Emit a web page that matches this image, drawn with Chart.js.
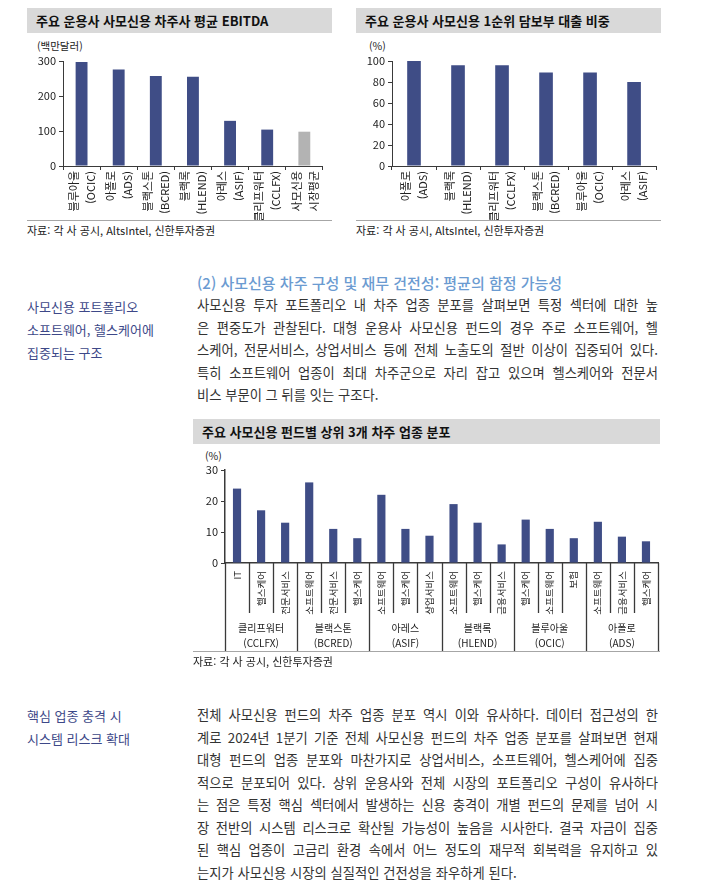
<!DOCTYPE html>
<html lang="ko">
<head>
<meta charset="utf-8">
<title>사모신용 차주 구성</title>
<script src="https://cdn.jsdelivr.net/npm/chart.js@4.4.1/dist/chart.umd.min.js"></script>
<style>
  html, body { margin: 0; padding: 0; background: #fff; }
  body {
    width: 703px; height: 881px; position: relative; overflow: hidden;
    font-family: 'Noto Sans CJK KR', 'Noto Sans', sans-serif; color: #222;
  }
  .abs { position: absolute; }
  .titlebar {
    position: absolute; height: 25px; line-height: 25px; background: #d9d9d9;
    font-size: 13px; font-weight: 700; color: #111; padding-left: 9px; box-sizing: border-box;
  }
  .unit { position: absolute; font-size: 10.5px; color: #222; }
  .rule { position: absolute; height: 0; border-top: 1px solid #a6a6a6; }
  .source { position: absolute; font-size: 11px; color: #222; }
  .heading { position: absolute; left: 197px; top: 272px; font-size: 15px; font-weight: 500; color: #6b9bd1; }
  .side { position: absolute; left: 27px; font-size: 13px; color: #3d4888; line-height: 23px; }
  .body { position: absolute; left: 197px; width: 461px; font-size: 13.3px; color: #333; line-height: 22.5px; font-weight: 400; }
  .body div { text-align: justify; text-align-last: justify; white-space: nowrap; }
  .body div.last { text-align-last: left; }
  canvas { position: absolute; }
</style>
</head>
<body>

<div class="titlebar" style="left:27px; top:8px; width:305px;">주요 운용사 사모신용 차주사 평균 EBITDA</div>
<div class="unit" style="left:37px; top:38px;">(백만달러)</div>
<div class="abs" style="left:0; top:40px; width:340px; height:180px;"><canvas id="ebitdaChart"></canvas></div>
<div class="rule" style="left:27px; top:220px; width:305px;"></div>
<div class="source" style="left:27px; top:222px;">자료: 각 사 공시, AltsIntel, 신한투자증권</div>

<div class="titlebar" style="left:356px; top:8px; width:305px;">주요 운용사 사모신용 1순위 담보부 대출 비중</div>
<div class="unit" style="left:369px; top:38px;">(%)</div>
<div class="abs" style="left:340px; top:40px; width:330px; height:180px;"><canvas id="lienChart"></canvas></div>
<div class="rule" style="left:356px; top:220px; width:305px;"></div>
<div class="source" style="left:356px; top:222px;">자료: 각 사 공시, AltsIntel, 신한투자증권</div>

<div class="heading">(2) 사모신용 차주 구성 및 재무 건전성: 평균의 함정 가능성</div>

<div class="side" style="top:295px;">사모신용 포트폴리오<br>소프트웨어, 헬스케어에<br>집중되는 구조</div>
<div class="body" style="top:294px;">
  <div>사모신용 투자 포트폴리오 내 차주 업종 분포를 살펴보면 특정 섹터에 대한 높</div>
  <div>은 편중도가 관찰된다. 대형 운용사 사모신용 펀드의 경우 주로 소프트웨어, 헬</div>
  <div>스케어, 전문서비스, 상업서비스 등에 전체 노출도의 절반 이상이 집중되어 있다.</div>
  <div>특히 소프트웨어 업종이 최대 차주군으로 자리 잡고 있으며 헬스케어와 전문서</div>
  <div class="last">비스 부문이 그 뒤를 잇는 구조다.</div>
</div>

<div class="titlebar" style="left:193px; top:419px; width:467px;">주요 사모신용 펀드별 상위 3개 차주 업종 분포</div>
<div class="unit" style="left:205px; top:448px;">(%)</div>
<div class="abs" style="left:180px; top:446px; width:490px; height:206px;"><canvas id="sectorChart"></canvas></div>
<div class="rule" style="left:193px; top:651px; width:467px;"></div>
<div class="source" style="left:193px; top:653px;">자료: 각 사 공시, 신한투자증권</div>

<div class="side" style="top:704px;">핵심 업종 충격 시<br>시스템 리스크 확대</div>
<div class="body" style="top:704px;">
  <div>전체 사모신용 펀드의 차주 업종 분포 역시 이와 유사하다. 데이터 접근성의 한</div>
  <div>계로 2024년 1분기 기준 전체 사모신용 펀드의 차주 업종 분포를 살펴보면 현재</div>
  <div>대형 펀드의 업종 분포와 마찬가지로 상업서비스, 소프트웨어, 헬스케어에 집중</div>
  <div>적으로 분포되어 있다. 상위 운용사와 전체 시장의 포트폴리오 구성이 유사하다</div>
  <div>는 점은 특정 핵심 섹터에서 발생하는 신용 충격이 개별 펀드의 문제를 넘어 시</div>
  <div>장 전반의 시스템 리스크로 확산될 가능성이 높음을 시사한다. 결국 자금이 집중</div>
  <div>된 핵심 업종이 고금리 환경 속에서 어느 정도의 재무적 회복력을 유지하고 있</div>
  <div class="last">는지가 사모신용 시장의 실질적인 건전성을 좌우하게 된다.</div>
</div>

<script>
  // --- data: average borrower EBITDA (USD mn) ---
  const ebitdaLabels = [
    ['블루아울', '(OCIC)'], ['아폴로', '(ADS)'], ['블랙스톤', '(BCRED)'], ['블랙록', '(HLEND)'],
    ['아레스', '(ASIF)'], ['클리프워터', '(CCLFX)'], ['사모신용', '시장평균'],
  ];
  const ebitdaValues = [297, 276, 257, 255, 129, 104, 98];
  const ebitdaTicks = [0, 100, 200, 300];

  // --- data: first-lien senior secured share (%) ---
  const lienLabels = [
    ['아폴로', '(ADS)'], ['블랙록', '(HLEND)'], ['클리프워터', '(CCLFX)'],
    ['블랙스톤', '(BCRED)'], ['블루아울', '(OCIC)'], ['아레스', '(ASIF)'],
  ];
  const lienValues = [100, 96, 96, 89, 89, 80];
  const lienTicks = [0, 20, 40, 60, 80, 100];

  // --- data: top 3 borrower sectors per fund (%) ---
  const sectorLabels = [
    'IT', '헬스케어', '전문서비스',
    '소프트웨어', '전문서비스', '헬스케어',
    '소프트웨어', '헬스케어', '상업서비스',
    '소프트웨어', '헬스케어', '금융서비스',
    '헬스케어', '소프트웨어', '보험',
    '소프트웨어', '금융서비스', '헬스케어',
  ];
  const sectorValues = [24, 17, 13, 26, 11, 8, 22, 11, 8.8, 19, 13, 6, 14, 11, 8, 13.3, 8.5, 7];
  const fundNames = [
    ['클리프워터', '(CCLFX)'], ['블랙스톤', '(BCRED)'], ['아레스', '(ASIF)'],
    ['블랙록', '(HLEND)'], ['블루아울', '(OCIC)'], ['아폴로', '(ADS)'],
  ];
  const fundSizes = [3, 3, 3, 3, 3, 3];
  const sectorTicks = [0, 10, 20, 30];

  const NAVY = '#3f4d86';
  const GREY_BAR = '#b3b3b3';
  const AXIS = '#3a3a3a';
  const FONT = "'Noto Sans CJK KR', 'Noto Sans', sans-serif";

  Chart.defaults.font.family = FONT;
  Chart.defaults.color = '#222';
  Chart.defaults.animation = false;

  function fixedTicks(list) {
    return function (scale) {
      scale.ticks = list.map(v => ({ value: v }));
    };
  }

  function barChart(id, labels, values, colors, tickList, opts) {
    return new Chart(document.getElementById(id), {
      type: 'bar',
      data: {
        labels,
        datasets: [{
          data: values,
          backgroundColor: colors,
          borderWidth: 0,
          barPercentage: opts.barPct,
          categoryPercentage: 1,
        }],
      },
      options: {
        responsive: true,
        maintainAspectRatio: false,
        layout: { padding: opts.padding },
        plugins: { legend: { display: false }, tooltip: { enabled: false } },
        scales: {
          x: {
            grid: { display: opts.xTicks, offset: true, drawOnChartArea: false, tickLength: 4, color: AXIS },
            border: { color: AXIS, width: opts.axisWidth },
            ticks: {
              maxRotation: 90, minRotation: 90, autoSkip: false, padding: opts.xPad,
              labelOffset: opts.xShift || 0,
              color: '#222', font: { size: opts.xFont, lineHeight: opts.xLine },
            },
            afterFit: s => { s.height = opts.xHeight; },
          },
          y: {
            min: tickList[0], max: tickList[tickList.length - 1],
            grid: { drawOnChartArea: false, tickLength: 4, color: AXIS },
            border: { color: AXIS, width: opts.axisWidth },
            ticks: { padding: 3, color: '#222', font: { size: 11 } },
            afterBuildTicks: fixedTicks(tickList),
            afterFit: s => { s.width = opts.yWidth; },
          },
        },
      },
      plugins: opts.plugins || [],
    });
  }

  // --- separators and fund names under the sector chart ---
  const fundGroups = {
    id: 'fundGroups',
    afterDraw(chart) {
      const { ctx, chartArea, scales: { x } } = chart;
      const base = chartArea.bottom;
      const starts = [0];
      fundSizes.forEach(n => starts.push(starts[starts.length - 1] + n));
      ctx.save();
      ctx.strokeStyle = AXIS;
      ctx.lineWidth = 1.3;
      for (let i = 0; i <= sectorLabels.length; i++) {
        const px = Math.round(x.getPixelForValue(i - 0.5)) + 0.5;
        const long = starts.includes(i);
        ctx.beginPath();
        ctx.moveTo(px, base);
        ctx.lineTo(px, base + (long ? 88 : 50));
        ctx.stroke();
      }
      ctx.fillStyle = '#222';
      ctx.font = '10px ' + FONT;
      ctx.textAlign = 'center';
      ctx.textBaseline = 'middle';
      fundNames.forEach((name, g) => {
        const mid = (x.getPixelForValue(starts[g] - 0.5) + x.getPixelForValue(starts[g + 1] - 0.5)) / 2;
        ctx.fillText(name[0], mid, base + 65);
        ctx.fillText(name[1], mid, base + 80);
      });
      ctx.restore();
    },
  };

  barChart('ebitdaChart', ebitdaLabels, ebitdaValues,
    ebitdaValues.map((_, i) => i === ebitdaValues.length - 1 ? GREY_BAR : NAVY), ebitdaTicks,
    { barPct: 0.32, padding: { top: 21, right: 8, bottom: 0, left: 0 }, xHeight: 54, yWidth: 63,
      xFont: 11, xLine: 1.55, xPad: 1, xShift: -8, xTicks: true, axisWidth: 1 });

  barChart('lienChart', lienLabels, lienValues, NAVY, lienTicks,
    { barPct: 0.31, padding: { top: 21, right: 10, bottom: 0, left: 0 }, xHeight: 54, yWidth: 52,
      xFont: 11, xLine: 1.55, xPad: 1, xShift: -8, xTicks: true, axisWidth: 1 });

  barChart('sectorChart', sectorLabels, sectorValues, NAVY, sectorTicks,
    { barPct: 0.34, padding: { top: 24, right: 12, bottom: 0, left: 0 }, xHeight: 89, yWidth: 45,
      xFont: 9.5, xLine: 1.2, xPad: 4, xTicks: false, axisWidth: 1.5, plugins: [fundGroups] });
</script>
</body>
</html>
